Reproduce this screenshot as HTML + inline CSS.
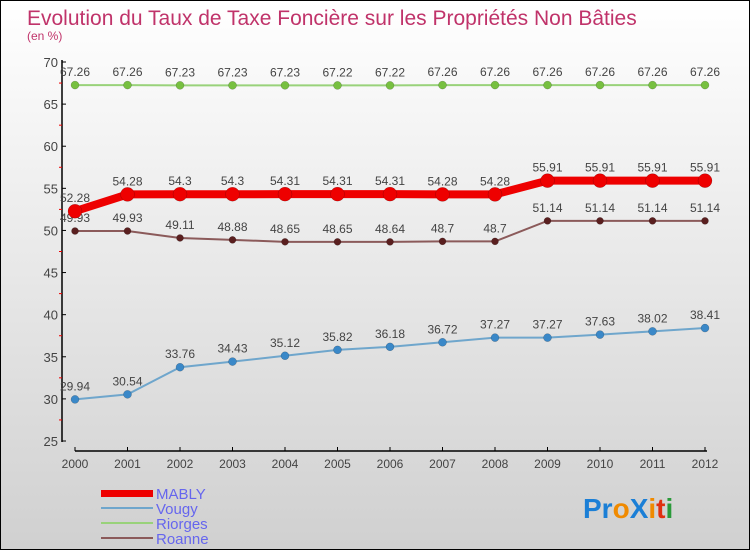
<!DOCTYPE html>
<html><head><meta charset="utf-8"><style>
body{margin:0;}
#c{width:748px;height:548px;border:1px solid #000;background:linear-gradient(#fff,#d0d0d0);position:relative;font-family:"Liberation Sans",sans-serif;overflow:hidden}
</style></head><body>
<div id="c">
<svg id="s" width="748" height="548" xmlns="http://www.w3.org/2000/svg">
<text x="26" y="24" font-size="21" fill="#c0336a">Evolution du Taux de Taxe Foncière sur les Propriétés Non Bâties</text>
<text x="26" y="39" font-size="12" fill="#c0336a">(en %)</text>
<g id="axes"></g><g id="series"></g>
<g>
<rect x="100" y="489" width="52" height="7" fill="#e00"/>
<text x="155" y="498" font-size="15" fill="#6666ee">MABLY</text>
<rect x="100" y="506" width="52" height="2" fill="#6fa6cc"/>
<text x="155" y="513" font-size="15" fill="#6666ee">Vougy</text>
<rect x="100" y="521" width="52" height="2" fill="#99d27a"/>
<text x="155" y="528" font-size="15" fill="#6666ee">Riorges</text>
<rect x="100" y="536" width="52" height="2" fill="#8b5a5a"/>
<text x="155" y="543" font-size="15" fill="#6666ee">Roanne</text>
</g>
<g font-size="28" font-weight="bold">
<text x="582" y="517"><tspan fill="#1b7fd6">Pr</tspan><tspan fill="#f08a00">o</tspan><tspan fill="#1b7fd6">X</tspan><tspan fill="#f08a00">i</tspan><tspan fill="#e03010">t</tspan><tspan fill="#2a9a3a">i</tspan></text>
</g>
</svg></div>
<script>
const years=[2000,2001,2002,2003,2004,2005,2006,2007,2008,2009,2010,2011,2012];
const yTicks=[25,30,35,40,45,50,55,60,65,70];
const mably=[52.28,54.28,54.3,54.3,54.31,54.31,54.31,54.28,54.28,55.91,55.91,55.91,55.91];
const mablyLabels=["52.28","54.28","54.3","54.3","54.31","54.31","54.31","54.28","54.28","55.91","55.91","55.91","55.91"];
const vougy=[29.94,30.54,33.76,34.43,35.12,35.82,36.18,36.72,37.27,37.27,37.63,38.02,38.41];
const riorges=[67.26,67.26,67.23,67.23,67.23,67.22,67.22,67.26,67.26,67.26,67.26,67.26,67.26];
const roanne=[49.93,49.93,49.11,48.88,48.65,48.65,48.64,48.7,48.7,51.14,51.14,51.14,51.14];
const NS="http://www.w3.org/2000/svg";
const X=i=>74+i*52.5, Y=v=>440-(v-25)*(379/45);
function mk(t,a,p){const e=document.createElementNS(NS,t);for(const k in a)e.setAttribute(k,a[k]);p.appendChild(e);return e;}
const ax=document.getElementById('axes');
let l=mk('line',{x1:61,y1:59,x2:61,y2:441,stroke:'#000','stroke-width':1.5},ax);

l=mk('line',{x1:74,y1:450,x2:706,y2:450,stroke:'#000','stroke-width':1.5},ax);

yTicks.forEach((v,i)=>{mk('line',{x1:61,y1:Y(v),x2:65,y2:Y(v),stroke:'#000'},ax);
 if(i<yTicks.length-1)mk('line',{x1:58,y1:Y(v+2.5),x2:61,y2:Y(v+2.5),stroke:'#e00'},ax);
 const t=mk('text',{x:57,y:Y(v)+5,'text-anchor':'end','font-size':13,fill:'#444'},ax);t.textContent=v;
 });
years.forEach((y,i)=>{mk('line',{x1:X(i),y1:446,x2:X(i),y2:450,stroke:'#000'},ax);
 const t=mk('text',{x:X(i),y:467,'text-anchor':'middle','font-size':12,fill:'#444'},ax);t.textContent=y;
 });
const sg=document.getElementById('series');
function series(name,vals,labels,color,w,r,dot){
 const g=mk('g',{},sg);
 
 
 const p=mk('polyline',{points:vals.map((v,i)=>X(i)+','+Y(v)).join(' '),fill:'none',stroke:color,'stroke-width':w},g);
 
 vals.forEach((v,i)=>{const c=mk('circle',{cx:X(i),cy:Y(v),r:r,fill:dot,stroke:'rgba(0,0,0,0.3)','stroke-width':0.5},g);
  
  const t=mk('text',{x:X(i),y:Y(v)-9,'text-anchor':'middle','font-size':12,fill:'#444'},g);
  t.textContent=labels?labels[i]:String(v);
  });
}
series('riorges',riorges,null,'#99d27a',2,4,'#77c040');
series('vougy',vougy,null,'#6fa6cc',2,4,'#3a88c8');
series('roanne',roanne,null,'#8b5a5a',2,3.5,'#5a1f1f');
series('mably',mably,mablyLabels,'#e00',8,7,'#e00');
</script>
</body></html>
